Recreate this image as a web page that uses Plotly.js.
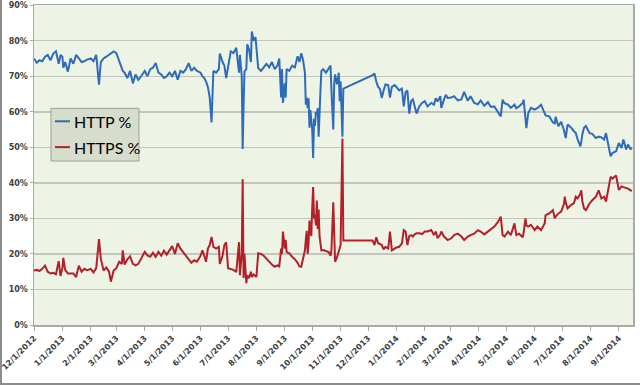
<!DOCTYPE html>
<html><head><meta charset="utf-8">
<script src="https://cdn.plot.ly/plotly-3.0.1.min.js"></script>
<style>
html,body{margin:0;padding:0;background:#fff;}
#chart{position:absolute;left:0;top:0;width:640px;height:385px;}
#frame{position:absolute;left:0;top:0;width:640px;height:385px;box-sizing:border-box;border-left:2px solid #8c8c8c;border-bottom:2px solid #8c8c8c;pointer-events:none;}
</style>
</head><body>
<div id="chart"></div><div id="frame"></div>
<script>
const dates = [
 '2012-12-01','2012-12-04','2012-12-07','2012-12-10','2012-12-13','2012-12-16','2012-12-19','2012-12-22','2012-12-25','2012-12-28','2012-12-30',
 '2013-01-01','2013-01-02','2013-01-04','2013-01-07','2013-01-10','2013-01-13','2013-01-16','2013-01-19','2013-01-22','2013-01-25','2013-01-28',
 '2013-02-01','2013-02-04','2013-02-07','2013-02-10','2013-02-12','2013-02-15','2013-02-18','2013-02-21','2013-02-23','2013-02-26',
 '2013-03-01','2013-03-04','2013-03-07','2013-03-08','2013-03-10','2013-03-13','2013-03-16','2013-03-19','2013-03-22','2013-03-25','2013-03-28',
 '2013-04-01','2013-04-04','2013-04-07','2013-04-10','2013-04-13','2013-04-16','2013-04-19','2013-04-22','2013-04-25','2013-04-28',
 '2013-05-01','2013-05-04','2013-05-07','2013-05-10','2013-05-13','2013-05-16','2013-05-19','2013-05-22','2013-05-25','2013-05-28',
 '2013-06-01','2013-06-03','2013-06-05','2013-06-07','2013-06-09','2013-06-11','2013-06-13','2013-06-15','2013-06-18','2013-06-21','2013-06-22','2013-06-25','2013-06-27','2013-06-29',
 '2013-07-01','2013-07-04','2013-07-07','2013-07-10','2013-07-13','2013-07-14','2013-07-16','2013-07-17','2013-07-18','2013-07-19','2013-07-21','2013-07-22','2013-07-24','2013-07-26','2013-07-27','2013-07-29','2013-07-31',
 '2013-08-01','2013-08-03','2013-08-06','2013-08-09','2013-08-12','2013-08-15','2013-08-18','2013-08-21','2013-08-24','2013-08-26','2013-08-28','2013-08-29','2013-08-30',
 '2013-09-01','2013-09-02','2013-09-03','2013-09-06','2013-09-09','2013-09-12','2013-09-15','2013-09-17','2013-09-19','2013-09-21','2013-09-23','2013-09-24','2013-09-25','2013-09-26','2013-09-27','2013-09-28','2013-09-29','2013-09-30',
 '2013-10-01','2013-10-02','2013-10-03','2013-10-04','2013-10-05','2013-10-06','2013-10-07','2013-10-08','2013-10-09','2013-10-10','2013-10-11','2013-10-13','2013-10-16','2013-10-19','2013-10-21','2013-10-22','2013-10-24','2013-10-25','2013-10-26','2013-10-28','2013-10-30','2013-10-31',
 '2013-11-01','2013-11-03','2013-11-04',
 '2013-12-06','2013-12-08','2013-12-10','2013-12-12','2013-12-14','2013-12-16','2013-12-18','2013-12-20','2013-12-23','2013-12-25','2013-12-27','2013-12-30',
 '2014-01-01','2014-01-04','2014-01-07','2014-01-09','2014-01-11','2014-01-13','2014-01-15','2014-01-17','2014-01-19','2014-01-21','2014-01-23','2014-01-26','2014-01-29',
 '2014-02-01','2014-02-04','2014-02-08','2014-02-11','2014-02-13','2014-02-15','2014-02-18','2014-02-19','2014-02-22','2014-02-24','2014-02-26',
 '2014-03-02','2014-03-05','2014-03-09','2014-03-13','2014-03-16','2014-03-20','2014-03-23','2014-03-27','2014-03-31',
 '2014-04-03','2014-04-07','2014-04-11','2014-04-14','2014-04-18','2014-04-22','2014-04-25','2014-04-27','2014-04-29',
 '2014-05-03','2014-05-06','2014-05-10','2014-05-12','2014-05-15','2014-05-19','2014-05-20','2014-05-22','2014-05-23','2014-05-25','2014-05-28',
 '2014-06-01','2014-06-04','2014-06-08','2014-06-12','2014-06-13','2014-06-17','2014-06-21','2014-06-23','2014-06-24','2014-06-27','2014-06-30',
 '2014-07-03','2014-07-04','2014-07-05','2014-07-07','2014-07-11','2014-07-14','2014-07-16','2014-07-18','2014-07-21','2014-07-22','2014-07-23','2014-07-25','2014-07-27','2014-07-31',
 '2014-08-03','2014-08-07','2014-08-10','2014-08-13','2014-08-16','2014-08-18','2014-08-20','2014-08-23','2014-08-25','2014-08-29',
 '2014-09-01','2014-09-04','2014-09-06','2014-09-09','2014-09-11','2014-09-14','2014-09-15'
];
const httpPct = [
 75,73.8,74.5,74.2,75.5,76,74.5,76.4,77,73.5,76,
 75.5,72.4,74,71.3,75,73.5,76,75,74,74.2,74.7,
 75,74.2,76,67.6,74,75,75.5,76,76.5,77,
 76.5,74.5,72.4,71.5,71,69.5,71.5,68,70.5,69,70,
 71.5,70,72,72.4,73.7,71,70.5,69.5,70,71,
 70,71.5,69,71.5,71,72,73.7,71.5,72.4,71.5,
 71,70,69.5,68.5,67,64,57,71.5,71,72,76.4,74,73,69.5,
 73,77,76.5,78,71,76,70,49.5,62,71.4,72,79,77.5,74,82.6,80,81,
 78,72.3,71.5,72.5,73.5,72.5,74,72,73,75,64,72,62.5,
 68,64,72,71.5,73,72.5,75.6,74,76.5,74.5,71,62,64,61,63.8,55.5,60.5,58,
 55,47,58,56,60,59,61,53,62,66,71.5,72,71,72,73,66,55,68,70.5,67.7,71,63,
 68.6,53,66.5,
 70.3,70.8,68.5,67,66.5,63.9,66,67.7,67.5,64,67,67.5,
 67,66,66.5,61.5,65.5,66,59.5,63,63.5,61.5,59.5,61.5,62.5,
 63,61.5,62.5,62,63.8,62.9,64.4,61.1,63.4,64.8,63.9,
 64,64.4,63.2,63.5,65.6,63.1,64.4,62.5,62.1,
 63.2,61.7,62.7,61.4,61.5,59.7,58.7,63.4,62.4,
 62,61.1,62,61,61.5,62.5,63.4,59.2,55.4,59.6,61.1,
 60.6,61,62,59.6,59,58.7,57,56.7,58.6,55.9,57.2,
 54.9,53.5,52.6,56.4,55.5,54.5,54,52.2,50.3,51.5,53.5,55.5,56,54,
 53.8,52.6,53,52.8,52.2,54,51.7,47.5,48.4,48.9,
 51.2,49.8,52.2,49.4,50.8,49.4,50
];
const httpsPct = [
 15.3,15.5,15.2,15.8,16.7,15,14.5,14.7,14.3,18,13.8,
 16,18.9,15.5,14.5,14.6,14.5,13.5,16.7,15,15.8,15.4,
 15.8,14.8,16,24.2,18.6,15.3,16.2,15,12.2,15.3,
 16,17.8,17.2,21,17,18.5,19.3,17.2,16.8,17.2,18.6,
 20.6,19.6,19.2,20.3,19.2,20.6,19.5,20.9,19.8,21,
 22.2,20,23,21.5,20.5,19.5,18.8,17.5,18.2,17.8,
 19.5,21,19.5,17.8,21.5,22.5,24.8,22,21.5,22,17.2,19.5,22.5,23.3,
 16,15.8,15.5,14.9,23.3,14,20,41,13.2,20,11.8,14,13.2,15,13.5,14.2,13.8,
 13.5,20.2,20,19.5,18.6,17.8,17,16.4,16.8,16.5,21.5,20,26.3,
 21.5,24,20.5,20.2,19.2,18.5,17.5,16.5,16.4,18.5,21,24,26.5,20,23,29.4,27,25,
 33,38.8,30,31,28,35,27,32.5,25,22,21,21.1,20.7,20.5,19.5,21,34.5,21.5,17.8,19,21,22,
 22.5,52.5,23.8,
 23.8,22.5,24.7,23,22.8,22.5,21.3,22,21.5,26.3,21,21.5,
 21.8,22,23,26.7,26.3,22.5,25,25.3,24.9,25.5,25.8,25.8,25.6,
 26.3,26.3,26.7,25.3,26.3,24.4,25.5,26.3,24.9,24.4,23.9,
 24.4,25.3,25.7,24.9,23.9,24.9,25.3,25.7,26.7,
 26.3,25.5,26.3,26.7,27.7,29,30.5,25.3,24.9,
 26.3,25.3,28.6,25.3,25.7,24.7,26,30,28,27.7,28.2,
 26.7,27.7,26.7,28.6,30.9,31.4,32.3,30,30.5,31.4,31.9,
 34,36.1,34.5,32.8,33.8,34.3,36.1,35.6,37,37.9,35,32.8,32.3,34.2,
 35.1,36.1,37.9,35.6,36.1,34.7,37.5,41.7,41.2,42.1,
 38,39,38.8,38.6,38.4,37.9,37.6
];
const seriesNames = ['HTTP %', 'HTTPS %'];
const yTickVals = [0,10,20,30,40,50,60,70,80,90];
const yTickText = ['0%','10%','20%','30%','40%','50%','60%','70%','80%','90%'];

const blue = '#2E6BB8', red = '#B3202A';
const tickFont = {family:'DejaVu Sans', size:8, color:'#404040', weight:'bold'};

const traces = [
  {x:dates, y:httpPct, name:seriesNames[0], type:'scatter', mode:'lines', line:{color:blue, width:2}, showlegend:false},
  {x:dates, y:httpsPct, name:seriesNames[1], type:'scatter', mode:'lines', line:{color:red, width:2}, showlegend:false}
];

const layout = {
  width:640, height:385,
  margin:{l:34, r:7, t:5, b:60},
  paper_bgcolor:'rgba(0,0,0,0)',
  plot_bgcolor:'#EEF4E5',
  showlegend:false,
  xaxis:{
    type:'date', range:['2012-12-01','2014-09-16 12:00'],
    tickmode:'linear', tick0:'2012-12-01', dtick:'M1', tickformat:'%-m/%-d/%Y',
    tickangle:-45, tickfont:tickFont,
    showgrid:false, zeroline:false,
    showline:true, linecolor:'#a8aaa5', linewidth:1.5, mirror:true,
    ticks:'outside', ticklen:4, tickcolor:'#a8aaa5', tickwidth:1
  },
  yaxis:{
    range:[0,90.05], tickmode:'array', tickvals:yTickVals, ticktext:yTickText,
    tickfont:tickFont,
    showgrid:true, gridcolor:'#c3c6be', gridwidth:1.5, zeroline:false,
    showline:true, linecolor:'#a8aaa5', linewidth:1.5, mirror:true,
    ticks:'outside', ticklen:3, tickcolor:'#a8aaa5'
  },
  shapes:[
    {type:'rect', xref:'paper', yref:'paper', x0:0.0284, x1:0.1753, y0:0.5124, y1:0.677,
     fillcolor:'#D7DDCC', line:{color:'#9da19a', width:1}, layer:'above'},
    {type:'line', xref:'paper', yref:'paper', x0:0.035, x1:0.0601, y0:0.6366, y1:0.6366, line:{color:blue, width:2}},
    {type:'line', xref:'paper', yref:'paper', x0:0.035, x1:0.0601, y0:0.5559, y1:0.5559, line:{color:red, width:2}}
  ],
  annotations:[
    {xref:'paper', yref:'paper', x:0.0634, y:0.6366, xanchor:'left', yanchor:'middle', showarrow:false,
     text:seriesNames[0], font:{family:'Lato', size:16, color:'#000'}},
    {xref:'paper', yref:'paper', x:0.0634, y:0.5559, xanchor:'left', yanchor:'middle', showarrow:false,
     text:seriesNames[1], font:{family:'Lato', size:16, color:'#000'}}
  ]
};

Plotly.newPlot('chart', traces, layout, {staticPlot:true, displayModeBar:false});
</script>
</body></html>
